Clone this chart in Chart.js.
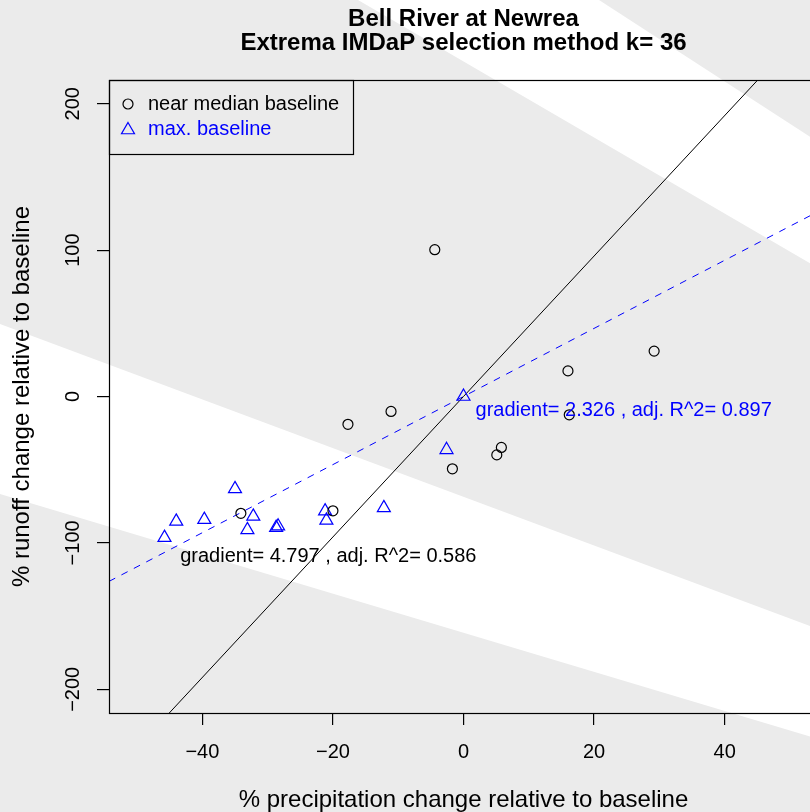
<!DOCTYPE html>
<html>
<head>
<meta charset="utf-8">
<script src="https://cdn.jsdelivr.net/npm/chart.js@4.4.1/dist/chart.umd.min.js"></script>
<style>
  html, body { margin: 0; padding: 0; background: #ebebeb; overflow: hidden; }
  canvas { display: block; }
</style>
</head>
<body>
<canvas id="chart" width="810" height="812"></canvas>
<script>
// near median baseline (circles)
const medianX = [29.2, 16.0, 16.2, -11.1, -17.7, 5.8, 5.1, -1.7, -34.1, -20.0, -4.4];
const medianY = [31.0, 17.5, -12.5, -10.2, -19.0, -34.8, -39.9, -49.4, -79.8, -78.1, 100.3];
// max. baseline (triangles)
const maxX = [0, -2.6, -12.2, -21.2, -21.0, -28.4, -28.7, -35.0, -32.2, -33.1, -39.7, -44.0, -45.8];
const maxY = [0, -36.4, -76.1, -78.3, -84.6, -88.6, -89.6, -63.1, -81.9, -91.1, -84.1, -85.3, -96.4];

const xTicks = [-40, -20, 0, 20, 40];
const yTicks = [-200, -100, 0, 100, 200];
const xRange = [-54.3, 54.3];
const yRange = [-216.2, 216.2];

// regression through origin: [median, max]
const gradients = [4.797, 2.326];
const adjR2 = [0.586, 0.897];
const labelAt = [[-43.4, -109.2], [1.84, -9.6]];

const FONT = '"Liberation Sans", Arial, Helvetica, sans-serif';
const BLUE = '#0000ff';
const PLOT_RIGHT = 818; // the original plot runs past the right edge of the picture

const toPts = (xs, ys) => xs.map((x, i) => ({ x: x, y: ys[i] }));
const fitLine = g => xRange.map(x => ({ x: x, y: g * x }));
const fmt = v => (v < 0 ? '\u2212' + Math.abs(v) : String(v));

// stretch plot area (and title block) to the cropped right edge
const cropRight = {
  id: 'cropRight',
  afterLayout(chart) {
    const d = PLOT_RIGHT - chart.chartArea.right;
    if (d <= 0) return;
    const xs = chart.scales.x;
    chart.chartArea.right += d;
    chart.chartArea.width += d;
    xs.right += d;
    xs.width += d;
    xs.configure();
    if (chart.titleBlock) {
      chart.titleBlock.right += d;
      chart.titleBlock.width += d;
    }
  }
};

// grey page with the white diagonal streaks
const background = {
  id: 'background',
  beforeDraw(chart) {
    const ctx = chart.ctx;
    ctx.save();
    ctx.fillStyle = '#ebebeb';
    ctx.fillRect(0, 0, chart.width, chart.height);
    ctx.fillStyle = '#ffffff';
    ctx.beginPath();
    ctx.moveTo(358, 0); ctx.lineTo(599, 0); ctx.lineTo(818, 142); ctx.lineTo(818, 268);
    ctx.closePath();
    ctx.fill();
    ctx.beginPath();
    ctx.moveTo(0, 324); ctx.lineTo(818, 629); ctx.lineTo(818, 739); ctx.lineTo(0, 494);
    ctx.closePath();
    ctx.fill();
    ctx.restore();
  }
};

function marker(ctx, style, x, y, r, color) {
  ctx.strokeStyle = color;
  ctx.lineWidth = 1.2;
  ctx.beginPath();
  if (style === 'circle') {
    ctx.arc(x, y, r, 0, Math.PI * 2);
  } else {
    for (let k = 0; k < 3; k++) {
      const a = k * 2 * Math.PI / 3;
      const px = x + Math.sin(a) * r, py = y - Math.cos(a) * r;
      if (k === 0) ctx.moveTo(px, py); else ctx.lineTo(px, py);
    }
    ctx.closePath();
  }
  ctx.stroke();
}

const overlay = {
  id: 'overlay',
  afterDraw(chart) {
    const ctx = chart.ctx;
    const a = chart.chartArea;
    const xs = chart.scales.x, ys = chart.scales.y;
    ctx.save();
    // frame (right side falls just outside the canvas)
    ctx.strokeStyle = '#000';
    ctx.lineWidth = 1.2;
    ctx.strokeRect(a.left + 0.5, a.top + 0.5, a.right - a.left - 1, a.bottom - a.top);

    // gradient labels
    ctx.font = '20px ' + FONT;
    ctx.textAlign = 'left';
    ctx.textBaseline = 'middle';
    ['#000', BLUE].forEach((c, i) => {
      ctx.fillStyle = c;
      ctx.fillText('gradient= ' + gradients[i].toFixed(3) + ' , adj. R^2= ' + adjR2[i].toFixed(3),
        xs.getPixelForValue(labelAt[i][0]), ys.getPixelForValue(labelAt[i][1]));
    });

    // legend
    const lx = a.left, ly = a.top;
    ctx.strokeStyle = '#000';
    ctx.lineWidth = 1.2;
    ctx.strokeRect(lx + 0.5, ly + 0.5, 244, 74);
    marker(ctx, 'circle', lx + 19, ly + 24, 5, '#000');
    marker(ctx, 'triangle', lx + 19, ly + 50, 7.5, BLUE);
    ctx.fillStyle = '#000';
    ctx.fillText('near median baseline', lx + 39, ly + 24);
    ctx.fillStyle = BLUE;
    ctx.fillText('max. baseline', lx + 39, ly + 49);
    ctx.restore();
  }
};

new Chart(document.getElementById('chart'), {
  type: 'scatter',
  data: {
    datasets: [
      {
        label: 'near median baseline',
        data: toPts(medianX, medianY),
        pointStyle: 'circle', pointRadius: 5, pointBorderWidth: 1.2,
        pointBorderColor: '#000', pointBackgroundColor: 'rgba(0,0,0,0)'
      },
      {
        label: 'max. baseline',
        data: toPts(maxX, maxY),
        pointStyle: 'triangle', pointRadius: 7.5, pointBorderWidth: 1.2,
        pointBorderColor: BLUE, pointBackgroundColor: 'rgba(0,0,0,0)'
      },
      {
        type: 'line', label: 'fit median',
        data: fitLine(gradients[0]),
        borderColor: '#000', borderWidth: 1, pointRadius: 0, fill: false
      },
      {
        type: 'line', label: 'fit max',
        data: fitLine(gradients[1]),
        borderColor: BLUE, borderWidth: 1, borderDash: [7, 7], pointRadius: 0, fill: false
      }
    ]
  },
  options: {
    responsive: false,
    animation: false,
    devicePixelRatio: 1,
    layout: { padding: 0 },
    plugins: {
      legend: { display: false },
      tooltip: { enabled: false },
      title: {
        display: true,
        fullSize: false,
        text: ['Bell River at Newrea', 'Extrema IMDaP selection method k= 36'],
        color: '#000',
        font: { family: FONT, size: 24, weight: 'bold', lineHeight: 1 },
        padding: { top: 7, bottom: 25 }
      }
    },
    scales: {
      x: {
        type: 'linear', min: xRange[0], max: xRange[1],
        afterBuildTicks: s => { s.ticks = xTicks.map(v => ({ value: v })); },
        afterFit: s => { s.height = 99; },
        grid: { drawOnChartArea: false, drawTicks: true, tickLength: 12, color: '#000', lineWidth: 1.2 },
        border: { display: false },
        ticks: {
          autoSkip: false, maxRotation: 0, padding: 15, color: '#000',
          font: { family: FONT, size: 20 },
          callback: v => fmt(v)
        },
        title: {
          display: true, text: '% precipitation change relative to baseline', color: '#000',
          font: { family: FONT, size: 24, lineHeight: 1 }, padding: { top: 0, bottom: 0 }
        }
      },
      y: {
        type: 'linear', min: yRange[0], max: yRange[1],
        afterBuildTicks: s => { s.ticks = yTicks.map(v => ({ value: v })); },
        afterFit: s => { s.width = 109; },
        grid: { drawOnChartArea: false, drawTicks: true, tickLength: 12, color: '#000', lineWidth: 1.2 },
        border: { display: false },
        ticks: {
          autoSkip: false, minRotation: 90, maxRotation: 90, crossAlign: 'center', padding: 1,
          color: '#000', font: { family: FONT, size: 20 },
          callback: v => fmt(v)
        },
        title: {
          display: true, text: '% runoff change relative to baseline', color: '#000',
          font: { family: FONT, size: 24, lineHeight: 1 }, padding: { top: 10, bottom: 0 }
        }
      }
    }
  },
  plugins: [cropRight, background, overlay]
});
</script>
</body>
</html>
